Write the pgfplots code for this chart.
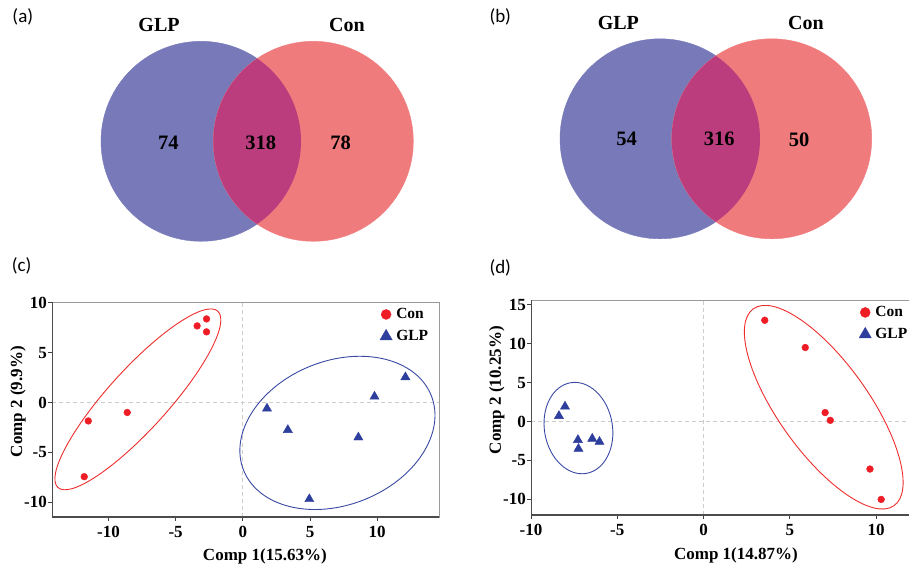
\documentclass[border=0pt]{standalone}
\usepackage{pgfplots}
\pgfplotsset{compat=1.18}
\usepackage{fontspec}
\setmainfont{Liberation Serif}
\newfontfamily\panelfont{Carlito}
\definecolor{vblue}{HTML}{7779B9}
\definecolor{vred}{HTML}{F07B7D}
\definecolor{vmix}{HTML}{BC3D7E}
\definecolor{pred}{HTML}{EE1C25}
\definecolor{pblue}{HTML}{2E3E9C}
\definecolor{ered}{HTML}{EE2D2D}
\definecolor{eblue}{HTML}{3949A3}
\newcommand{\tfont}{\fontsize{17}{17}\selectfont\bfseries}
\newcommand{\lfont}{\fontsize{15.5}{15.5}\selectfont\bfseries}
\newcommand{\vfont}{\fontsize{20}{20}\selectfont\bfseries}
\newcommand{\nfont}{\fontsize{20.5}{20.5}\selectfont\bfseries}
\newcommand{\pfont}{\panelfont\fontsize{19}{19}\selectfont}
\tikzset{
  zl/.style={black!20, dash pattern=on 4pt off 3pt, line width=0.8pt},
  fr/.style={black!70, line width=1.4pt},
}
\pgfplotsset{
  overlay/.style={at={(0pt,0pt)}, anchor=north west, scale only axis,
    width=909pt, height=569pt, xmin=0, xmax=909, ymin=0, ymax=569,
    y dir=reverse, hide axis, clip=false},
  pca/.style={
    scale only axis, anchor=north west,
    /pgf/number format/assume math mode=true,
    axis line style={color=black!40, line width=0.8pt},
    tick align=outside, xtick pos=bottom, ytick pos=left,
    major tick length=4pt,
    tick style={color=black!75, line width=1pt},
    ticklabel style={font=\tfont},
    xticklabel style={inner sep=1pt, yshift=-4pt},
    yticklabel style={inner sep=1pt},
    label style={font=\tfont},
    legend style={draw=none, fill=none, font=\lfont, inner sep=0pt,
      row sep=8pt, nodes={inner sep=1pt},
      /tikz/every odd column/.style={column sep=3pt}},
    legend cell align=left,
    legend image code/.code={\draw[##1] plot coordinates {(0pt,0pt)};},
  },
}
\begin{document}
\begin{tikzpicture}
\useasboundingbox (0,0) rectangle (909pt,-569pt);
% ---------- Venn circles (axis units = pixels) ----------
\begin{axis}[overlay]
\addplot[only marks, mark=*, mark size=100pt, color=vblue]
  coordinates {(201,141.3) (660,138.8)};
\addplot[only marks, mark=*, mark size=100pt, color=vred]
  coordinates {(313.3,141.3) (771.7,138.8)};
\end{axis}
% ---------- Venn overlaps and texts ----------
\begin{axis}[overlay]
\begin{scope}
\clip (axis cs:201,141.3) circle[radius=100];
\fill[vmix] (axis cs:313.3,141.3) circle[radius=100];
\end{scope}
\begin{scope}
\clip (axis cs:660,138.8) circle[radius=100];
\fill[vmix] (axis cs:771.7,138.8) circle[radius=100];
\end{scope}
\node[font=\vfont] at (axis cs:159,25) {GLP};
\node[font=\vfont] at (axis cs:347,25) {Con};
\node[font=\vfont] at (axis cs:618.3,22.7) {GLP};
\node[font=\vfont] at (axis cs:806,22.7) {Con};
\node[font=\nfont] at (axis cs:168.3,142.7) {74};
\node[font=\nfont] at (axis cs:260.7,142.7) {318};
\node[font=\nfont] at (axis cs:340.7,142.7) {78};
\node[font=\nfont] at (axis cs:626.7,139.3) {54};
\node[font=\nfont] at (axis cs:719.3,139.3) {316};
\node[font=\nfont] at (axis cs:799,139.3) {50};
\node[font=\pfont, anchor=west, inner sep=0pt] at (axis cs:12.3,16.7) {(a)};
\node[font=\pfont, anchor=west, inner sep=0pt] at (axis cs:489.3,16.7) {(b)};
\node[font=\pfont, anchor=west, inner sep=0pt] at (axis cs:11.7,266) {(c)};
\node[font=\pfont, anchor=west, inner sep=0pt] at (axis cs:489.3,268.3) {(d)};
\end{axis}
% ---------- (c) PCA ----------
\begin{axis}[pca, at={(52pt,-302pt)}, width=387pt, height=215pt,
  xmin=-14.2, xmax=14.6, ymin=-11.5, ymax=10.1,
  xtick={-10,-5,0,5,10}, ytick={-10,-5,0,5,10},
  xlabel={Comp 1(15.63\%)}, ylabel={Comp 2 (9.9\%)},
  xlabel style={at={([yshift=-39pt]axis description cs:0.55,0)}, anchor=center},
  ylabel style={at={([xshift=-34pt]axis description cs:0,0.536)}, anchor=center},
  legend style={at={(axis description cs:0.975,0.975)}, anchor=north east}]
\draw[zl] (axis cs:0,-11.5) -- (axis cs:0,10.1);
\draw[zl] (axis cs:-14.2,0) -- (axis cs:14.6,0);
\addplot[only marks, mark=*, mark size=3.4pt, color=pred, forget plot]
  coordinates {(-2.7,8.4) (-3.4,7.7) (-2.7,7.1) (-8.6,-1.0) (-11.5,-1.85) (-11.8,-7.45)};
\addplot[only marks, mark=triangle*, mark size=5.3pt, color=pblue, forget plot]
  coordinates {(1.8,-0.6) (3.35,-2.75) (4.95,-9.7) (8.6,-3.5) (9.8,0.6) (12.1,2.55)};
\draw[ered, line width=0.9pt, rotate around={47.8:(axis cs:-7.81,0.32)}]
  (axis cs:-7.81,0.32) ellipse [x radius=119pt, y radius=30pt];
\draw[eblue, line width=0.9pt, rotate around={21.7:(axis cs:7.04,-3.05)}]
  (axis cs:7.04,-3.05) ellipse [x radius=101pt, y radius=72pt];
\draw[fr] (rel axis cs:0,1) -- (rel axis cs:0,0) -- (rel axis cs:1,0);
\addlegendimage{only marks, mark=*, mark size=5pt, color=pred}
\addlegendentry{Con}
\addlegendimage{only marks, mark=triangle*, mark size=7.1pt, color=pblue}
\addlegendentry{GLP}
\end{axis}
% ---------- (d) PCA ----------
\begin{axis}[pca, at={(531pt,-300pt)}, width=379.5pt, height=215pt,
  xmin=-10, xmax=12, ymin=-12, ymax=15.6,
  xtick={-10,-5,0,5,10}, ytick={-10,-5,0,5,10,15},
  xlabel={Comp 1(14.87\%)}, ylabel={Comp 2 (10.25\%)},
  xlabel style={at={([yshift=-40pt]axis description cs:0.54,0)}, anchor=center},
  ylabel style={at={([xshift=-34.3pt]axis description cs:0,0.581)}, anchor=center},
  legend style={at={(axis description cs:0.864,0.975)}, anchor=north west}]
\draw[zl] (axis cs:0,-12) -- (axis cs:0,15.6);
\draw[zl] (axis cs:-10,0) -- (axis cs:12,0);
\addplot[only marks, mark=*, mark size=3.4pt, color=pred, forget plot]
  coordinates {(3.55,13.0) (5.9,9.5) (7.05,1.15) (7.35,0.15) (9.65,-6.1) (10.3,-10.0)};
\addplot[only marks, mark=triangle*, mark size=5.3pt, color=pblue, forget plot]
  coordinates {(-8.38,0.72) (-8.03,1.93) (-7.28,-2.36) (-7.25,-3.5) (-6.45,-2.2) (-6.03,-2.6)};
\draw[ered, line width=0.9pt, rotate around={-54.4:(axis cs:6.97,1.84)}]
  (axis cs:6.97,1.84) ellipse [x radius=121pt, y radius=45pt];
\draw[eblue, line width=0.9pt, rotate around={10:(axis cs:-7.25,-0.84)}]
  (axis cs:-7.25,-0.84) ellipse [x radius=34pt, y radius=46pt];
\draw[fr] (rel axis cs:0,1) -- (rel axis cs:0,0) -- (rel axis cs:1,0);
\addlegendimage{only marks, mark=*, mark size=5pt, color=pred}
\addlegendentry{Con}
\addlegendimage{only marks, mark=triangle*, mark size=7.1pt, color=pblue}
\addlegendentry{GLP}
\end{axis}
\end{tikzpicture}
\end{document}
